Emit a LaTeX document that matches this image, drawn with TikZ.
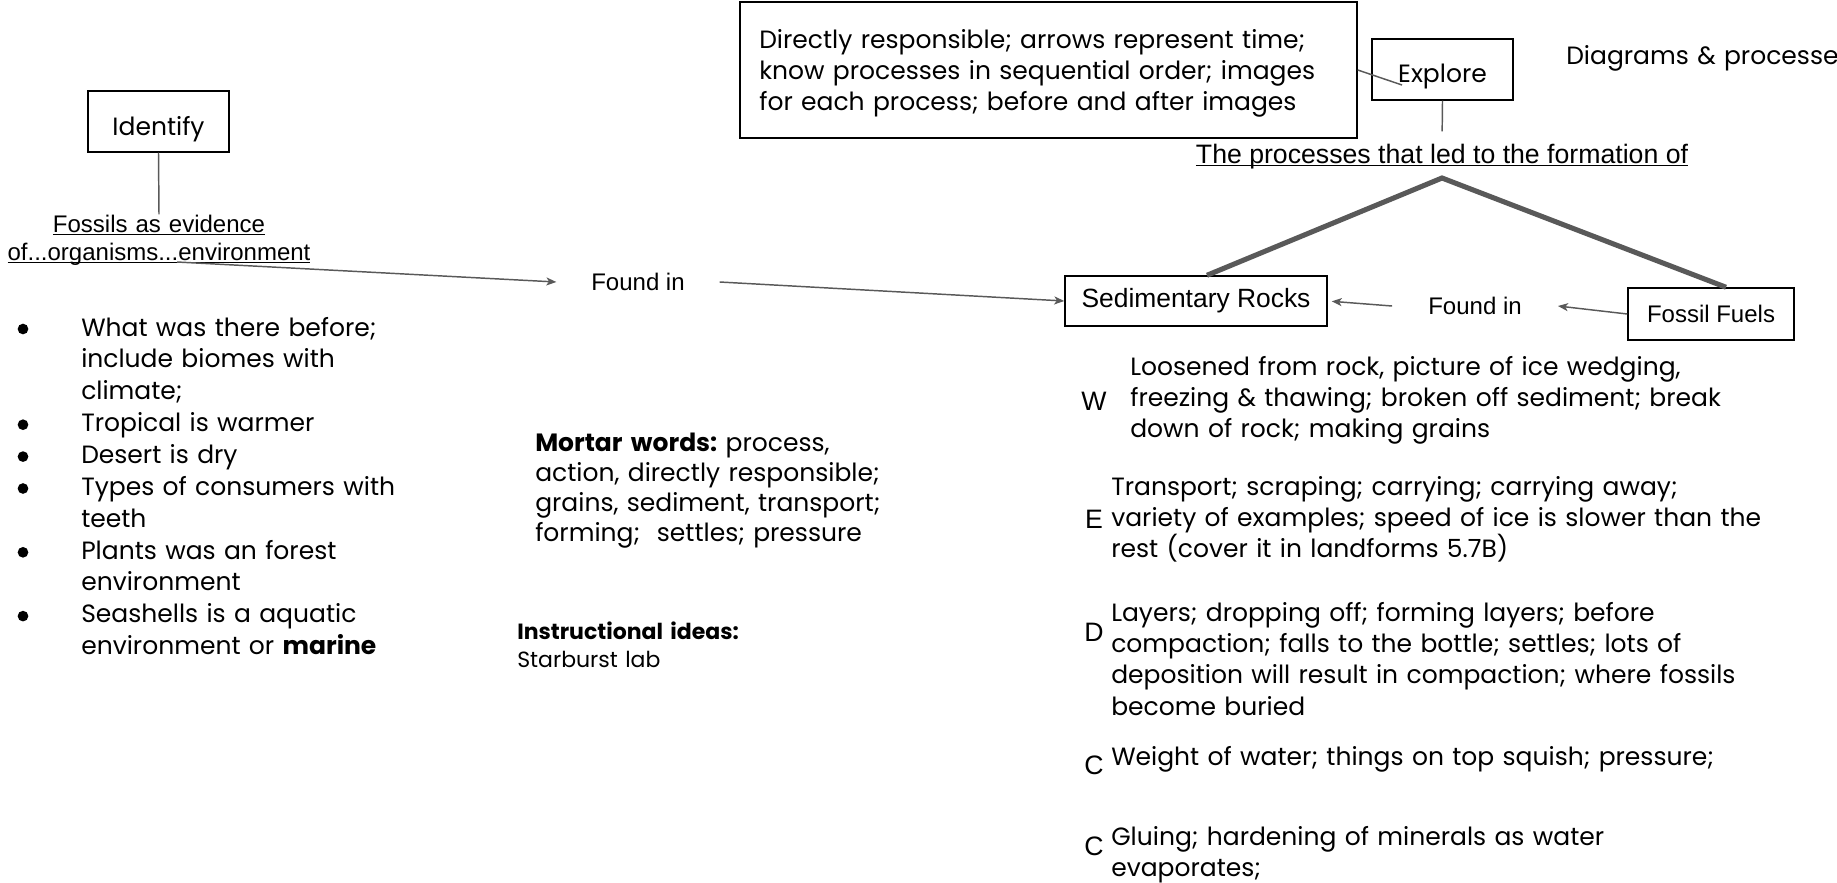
\documentclass[tikz,border=0pt]{standalone}
\usepackage{fontspec}
\setmainfont{Poppins}
\newfontfamily\arialf{Liberation Sans}
\usetikzlibrary{arrows.meta,calc}
\definecolor{conn}{HTML}{595959}
\newcommand\myul[1]{\leavevmode\setbox0\hbox{#1}\rlap{\rule[-2.6pt]{\wd0}{0.9pt}}\box0}
\newcommand\lowtxt[1]{\raisebox{-5.5pt}[\height][\depth]{#1}}
\tikzset{
  box/.style={draw=black, line width=1.1pt, inner sep=0pt},
  bodytxt/.style={inner sep=0pt, align=left, text width=700*0.75pt, anchor=base west, font=\fontsize{18.75}{23.9}\selectfont},
  ariallbl/.style={inner sep=0pt, font=\arialf\fontsize{18}{21}\selectfont},
  letterlbl/.style={inner sep=0pt, font=\arialf\fontsize{20}{22}\selectfont},
  connline/.style={draw=conn, line width=1.1pt},
  connarrow/.style={draw=conn, line width=1.1pt, -{Stealth[length=7.5pt,width=6pt,inset=2pt]}},
  treeline/.style={draw=conn, line width=3.8pt},
  bulletdot/.style={circle, fill=black, inner sep=0pt, minimum size=8pt}
}
\begin{document}
\begin{tikzpicture}[x=0.75pt,y=-0.75pt]
\useasboundingbox (0,0) rectangle (1837,882);

% ---------- left column ----------
\node[box, minimum width=105.75pt, minimum height=45.75pt, font=\fontsize{18.75}{22}\selectfont] (identify) at (158.5,121.5) {\lowtxt{Identify}};
\node[inner sep=0pt, align=center, text width=330*0.75pt, anchor=base, font=\arialf\fontsize{18}{21}\selectfont] (fossils) at (159,232)
  {\myul{Fossils as evidence}\\ \myul{of...organisms...environment}};
\draw[connline] (identify.south) -- (fossils.north);

\node[bodytxt, font=\fontsize{18.75}{23.9}\selectfont] (bullets) at (81,336)
  {What was there before;\\ include biomes with\\ climate;\\ Tropical is warmer\\ Desert is dry\\ Types of consumers with\\ teeth\\ Plants was an forest\\ environment\\ Seashells is a aquatic\\ environment or \textbf{marine}};
\foreach \i/\yy in {1/329,2/424.7,3/456.6,4/488.5,5/552.3,6/616.1}
  \node[bulletdot] (b\i) at (23,\yy) {};

% ---------- middle ----------
\node[ariallbl, inner xsep=26pt] (foundL) at (638,282) {Found in};
\coordinate (fstart) at (177,262);
\draw[connarrow] (fstart) -- (foundL.west);

\node[bodytxt, font=\fontsize{18.75}{22.5}\selectfont] (mortar) at (535,451)
  {\textbf{Mortar words:}~process,\\ action, directly responsible;\\ grains, sediment, transport;\\ forming;\ \ settles; pressure};
\node[bodytxt, font=\fontsize{16.5}{21}\selectfont] (instr) at (517,639)
  {\textbf{Instructional ideas:}\\ Starburst lab};

% ---------- top ----------
\node[box, minimum width=462.75pt, minimum height=102pt] (tb) at (1048.5,70) {};
\node[bodytxt, font=\fontsize{18.75}{23.25}\selectfont] (tbtext) at (759,48)
  {Directly responsible; arrows represent time;\\ know processes in sequential order; images\\ for each process; before and after images};
\node[box, minimum width=105.75pt, minimum height=45.75pt, font=\fontsize{18.75}{22}\selectfont] (explore) at (1442.5,69.5) {\lowtxt{Explore}};
\coordinate (exin) at (1402,85);
\draw[connline] (tb.east) -- (exin);
\node[bodytxt, text width=300pt] (diag) at (1566,64) {Diagrams \& processe};

\node[ariallbl, anchor=base, font=\arialf\fontsize{20}{22}\selectfont] (proc) at (1442,163) {\myul{The processes that led to the formation of}};
\draw[connline, shorten >=9pt] (explore.south) -- (proc.north);

% ---------- right middle ----------
\node[box, minimum width=196.5pt, minimum height=37.5pt, font=\arialf\fontsize{19.8}{22}\selectfont] (sed) at (1196,301) {Sedimentary Rocks};
\node[box, minimum width=124.5pt, minimum height=39pt, font=\arialf\fontsize{18}{21}\selectfont] (ff) at (1711,314) {Fossil Fuels};
\node[ariallbl, inner xsep=27pt] (foundR) at (1475,306) {Found in};
\coordinate (apex) at (1442,178);
\draw[treeline] ($(sed.north)+(11,0)$) -- (apex) -- ($(ff.north)+(15,0)$);
\draw[connarrow] (foundL.east) -- (sed.west);
\draw[connarrow] (ff.west) -- (foundR.east);
\draw[connarrow, shorten >=3pt] (foundR.west) -- (sed.east);

% ---------- W E D C ----------
\node[letterlbl] (lw) at (1094,401) {W};
\node[letterlbl] (le) at (1094,519) {E};
\node[letterlbl] (ld) at (1094,632) {D};
\node[letterlbl] (lc1) at (1094,765) {C};
\node[letterlbl] (lc2) at (1094,846) {C};

\node[bodytxt, font=\fontsize{18.75}{23.6}\selectfont] (tw) at (1130,375)
  {Loosened from rock, picture of ice wedging,\\ freezing \& thawing; broken off sediment; break\\ down of rock; making grains};
\node[bodytxt, font=\fontsize{18.75}{23.6}\selectfont] (te) at (1111,495)
  {Transport; scraping; carrying; carrying away;\\ variety of examples; speed of ice is slower than the\\ rest (cover it in landforms 5.7B)};
\node[bodytxt, font=\fontsize{18.75}{23.6}\selectfont] (td) at (1111,621)
  {Layers; dropping off; forming layers; before\\ compaction; falls to the bottle; settles; lots of\\ deposition will result in compaction; where fossils\\ become buried};
\node[bodytxt] (tc1) at (1111,765) {Weight of water; things on top squish; pressure;};
\node[bodytxt, font=\fontsize{18.75}{23.6}\selectfont] (tc2) at (1111,845)
  {Gluing; hardening of minerals as water\\ evaporates;};
\end{tikzpicture}
\end{document}
